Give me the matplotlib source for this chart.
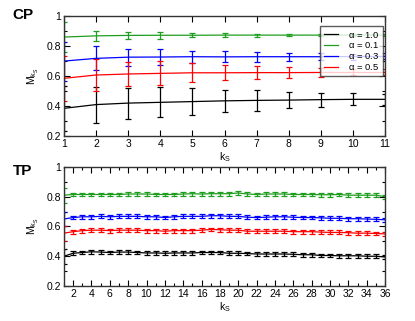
import matplotlib
matplotlib.use("Agg")
import numpy as np
import matplotlib.pyplot as plt
from matplotlib.ticker import MultipleLocator
from matplotlib.lines import Line2D

plt.rcParams['font.family'] = ['Liberation Sans', 'DejaVu Sans']
plt.rcParams['mathtext.fontset'] = 'custom'
plt.rcParams['mathtext.rm'] = 'Liberation Sans'
plt.rcParams['mathtext.it'] = 'Liberation Sans'

# ---- CP panel data ----
cp_k = list(range(1, 12))
cp_a10 = [0.385, 0.41, 0.42, 0.425, 0.43, 0.435, 0.438, 0.44, 0.443, 0.445, 0.445]
cp_a10_err = [0.15, 0.12, 0.103, 0.10, 0.088, 0.075, 0.068, 0.055, 0.047, 0.04, 0.035]
cp_a01 = [0.86, 0.868, 0.871, 0.872, 0.872, 0.873, 0.873, 0.873, 0.873, 0.873, 0.873]
cp_a01_err = [0.098, 0.035, 0.022, 0.022, 0.013, 0.012, 0.01, 0.008, 0.007, 0.007, 0.007]
cp_a03 = [0.70, 0.718, 0.726, 0.727, 0.729, 0.728, 0.729, 0.729, 0.729, 0.73, 0.731]
cp_a03_err = [0.13, 0.08, 0.056, 0.053, 0.04, 0.036, 0.033, 0.027, 0.022, 0.02, 0.02]
cp_a05 = [0.585, 0.607, 0.614, 0.618, 0.622, 0.622, 0.623, 0.623, 0.624, 0.624, 0.624]
cp_a05_err = [0.15, 0.105, 0.078, 0.08, 0.062, 0.051, 0.045, 0.039, 0.032, 0.02, 0.02]

# ---- TP panel data ----
tp_k = list(range(1, 37))
tp_a01 = [0.81, 0.815, 0.815, 0.815, 0.815, 0.815, 0.815, 0.818, 0.818, 0.818,
          0.815, 0.815, 0.815, 0.818, 0.82, 0.818, 0.82, 0.82, 0.82, 0.825,
          0.818, 0.815, 0.818, 0.818, 0.818, 0.815, 0.815, 0.815, 0.813, 0.813,
          0.815, 0.81, 0.81, 0.81, 0.81, 0.80]
tp_a03 = [0.65, 0.66, 0.665, 0.665, 0.668, 0.665, 0.668, 0.668, 0.668, 0.665,
          0.665, 0.66, 0.665, 0.668, 0.668, 0.668, 0.672, 0.672, 0.668, 0.668,
          0.662, 0.66, 0.662, 0.665, 0.665, 0.662, 0.66, 0.66, 0.658, 0.655,
          0.655, 0.652, 0.652, 0.65, 0.648, 0.645]
tp_a05 = [0.555, 0.565, 0.572, 0.575, 0.575, 0.572, 0.575, 0.575, 0.575, 0.572,
          0.572, 0.568, 0.572, 0.572, 0.572, 0.575, 0.58, 0.578, 0.575, 0.575,
          0.568, 0.568, 0.568, 0.568, 0.568, 0.565, 0.565, 0.565, 0.562, 0.56,
          0.56, 0.558, 0.555, 0.555, 0.553, 0.55]
tp_a10 = [0.40, 0.42, 0.425, 0.43, 0.428, 0.425, 0.428, 0.428, 0.425, 0.422,
          0.422, 0.42, 0.422, 0.422, 0.422, 0.425, 0.425, 0.425, 0.42, 0.42,
          0.418, 0.415, 0.415, 0.415, 0.415, 0.413, 0.41, 0.41, 0.405, 0.405,
          0.403, 0.403, 0.403, 0.40, 0.40, 0.395]
tp_err = [0.05] + [0.013] * 35

labels = [r'$\alpha$ = 1.0', r'$\alpha$ = 0.1', r'$\alpha$ = 0.3', r'$\alpha$ = 0.5']
colors = ['black', '#1e9e1e', '#0000ff', '#ff0000']

fig = plt.figure(figsize=(4.15, 3.21), dpi=100)
ax1 = fig.add_axes([0.154, 0.576, 0.774, 0.374])
ax2 = fig.add_axes([0.154, 0.109, 0.774, 0.371])

cp_series = [(cp_a10, cp_a10_err), (cp_a01, cp_a01_err), (cp_a03, cp_a03_err), (cp_a05, cp_a05_err)]
for (y, e), c in zip(cp_series, colors):
    ax1.errorbar(cp_k, y, yerr=e, color=c, lw=0.9, elinewidth=0.9, capsize=2.3,
                 capthick=0.9)

tp_series = [tp_a10, tp_a01, tp_a03, tp_a05]
for y, c in zip(tp_series, colors):
    ax2.errorbar(tp_k, y, yerr=tp_err, color=c, lw=0.9, elinewidth=0.9, capsize=2.3,
                 capthick=0.9)

for ax in (ax1, ax2):
    ax.set_ylim(0.2, 1.0)
    ax.yaxis.set_minor_locator(MultipleLocator(0.1))
    ax.set_yticks([0.2, 0.4, 0.6, 0.8, 1.0])
    ax.set_yticklabels(['0.2', '0.4', '0.6', '0.8', '1'])
    ax.tick_params(which='both', direction='in', top=True, right=True, labelsize=7.5, pad=2)
    ax.tick_params(which='major', length=4, width=0.8)
    ax.tick_params(which='minor', length=2, width=0.8)
    for s in ax.spines.values():
        s.set_linewidth(1.0)
        s.set_color('#333333')
    ax.set_ylabel(r'M$_{\mathrm{k_S}}$', fontsize=7.5, labelpad=4)
    ax.set_xlabel(r'k$_\mathrm{S}$', fontsize=7.5, labelpad=1)

ax1.set_xlim(1, 11)
ax1.set_xticks(cp_k)
ax2.set_xlim(1, 36)
ax2.xaxis.set_minor_locator(MultipleLocator(1))
ax2.set_xticks(range(2, 37, 2))

handles = [Line2D([], [], color=c, lw=0.9) for c in colors]
leg = ax1.legend(handles, labels, loc='upper right', bbox_to_anchor=(0.994, 0.919),
                 borderaxespad=0, fontsize=6.8, frameon=True, fancybox=False,
                 handlelength=1.5, handletextpad=1.1, labelspacing=0.1, borderpad=0.4)
leg.get_frame().set_edgecolor('#333333')
leg.get_frame().set_linewidth(1.0)

fig.text(0.03, 0.952, 'CP', fontsize=11, fontweight='bold', va='center')
fig.text(0.03, 0.468, 'TP', fontsize=11, fontweight='bold', va='center')

fig.savefig('out.png', dpi=100)
